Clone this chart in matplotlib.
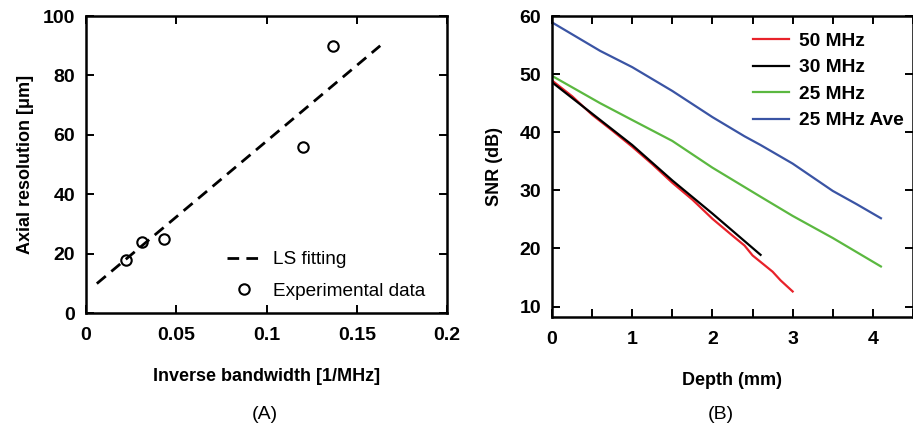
import numpy as np
import matplotlib.pyplot as plt

plt.rcParams['font.family'] = ['Liberation Sans', 'DejaVu Sans']
plt.rcParams['font.size'] = 13
plt.rcParams['font.weight'] = 'bold'
plt.rcParams['axes.labelweight'] = 'bold'

# panel A data
inv_bw = [0.022, 0.031, 0.043, 0.120, 0.137]
axial_res = [18, 24, 25, 56, 90]
fit_x = [0.006, 0.163]
fit_y = [10, 90]

# panel B data
depth_50 = [0, 0.25, 0.5, 0.75, 1.0, 1.25, 1.5, 1.75, 2.0, 2.25, 2.4, 2.5, 2.75, 2.85, 3.0]
snr_50 = [48.9, 46.2, 43.0, 40.3, 37.5, 34.5, 31.3, 28.4, 25.1, 22.2, 20.5, 18.8, 16.0, 14.5, 12.6]
depth_30 = [0, 0.5, 1.0, 1.5, 2.0, 2.6]
snr_30 = [48.6, 43.2, 37.8, 31.7, 26.0, 18.9]
depth_25 = [0, 0.6, 1.0, 1.5, 2.0, 2.6, 3.0, 3.5, 4.1]
snr_25 = [49.7, 45.0, 42.1, 38.5, 33.9, 28.9, 25.6, 21.8, 16.9]
depth_ave = [0, 0.6, 1.0, 1.5, 2.0, 2.4, 2.6, 3.0, 3.5, 3.8, 4.1]
snr_ave = [58.9, 54.0, 51.2, 47.1, 42.6, 39.3, 37.8, 34.6, 29.9, 27.6, 25.2]

fig = plt.figure(figsize=(9.13, 4.29), dpi=100)
ax1 = fig.add_axes([0.0942, 0.2696, 0.3954, 0.6931])
ax2 = fig.add_axes([0.6046, 0.261, 0.3954, 0.7017])

ax1.plot(fit_x, fit_y, color='black', lw=2, dashes=(4.2, 2.6), label='LS fitting')
ax1.plot(inv_bw, axial_res, ls='', marker='o', mfc='none', mec='black', ms=7.5, mew=1.5,
         label='Experimental data')
ax1.set_xlim(0, 0.2)
ax1.set_ylim(0, 100)
ax1.set_xticks([0, 0.05, 0.1, 0.15, 0.2])
ax1.set_xticklabels(['0', '0.05', '0.1', '0.15', '0.2'])
ax1.set_yticks([0, 20, 40, 60, 80, 100])
ax1.set_xlabel('Inverse bandwidth [1/MHz]', labelpad=17)
ax1.set_ylabel('Axial resolution [\u03bcm]', labelpad=6)
ax1.legend(loc='lower left', bbox_to_anchor=(0.39, 0.045), frameon=False,
           borderaxespad=0, borderpad=0,
           prop={'weight': 'normal', 'size': 13.7},
           handlelength=1.85, handletextpad=0.58, labelspacing=0.75)

ax2.plot(depth_50, snr_50, color='#e8222a', lw=1.6, label='50 MHz')
ax2.plot(depth_30, snr_30, color='black', lw=1.6, label='30 MHz')
ax2.plot(depth_25, snr_25, color='#5bb840', lw=1.6, label='25 MHz')
ax2.plot(depth_ave, snr_ave, color='#3a54a4', lw=1.6, label='25 MHz Ave')
ax2.set_xlim(0, 4.5)
ax2.set_ylim(8.2, 60)
ax2.set_xticks(np.arange(0, 4.6, 0.5))
ax2.set_xticklabels(['0', '', '1', '', '2', '', '3', '', '4', ''])
ax2.set_yticks([10, 20, 30, 40, 50, 60])
ax2.set_xlabel('Depth (mm)', labelpad=17)
ax2.set_ylabel('SNR (dB)', labelpad=12)
ax2.legend(loc='upper left', bbox_to_anchor=(0.558, 0.945), frameon=False,
           borderaxespad=0, borderpad=0, prop={'size': 13.8},
           handlelength=1.84, handletextpad=0.55, labelspacing=0.47)

for ax in (ax1, ax2):
    ax.tick_params(direction='in', length=6, width=1.4, top=True, right=True, pad=10,
                   labelsize=14)
    ax.tick_params(axis='y', pad=8)
    for sp in ax.spines.values():
        sp.set_linewidth(1.8)

fig.text(0.2898, 0.033, '(A)', ha='center', va='center', weight='normal', size=14)
fig.text(0.7897, 0.033, '(B)', ha='center', va='center', weight='normal', size=14)

fig.savefig('out.png', dpi=100)
